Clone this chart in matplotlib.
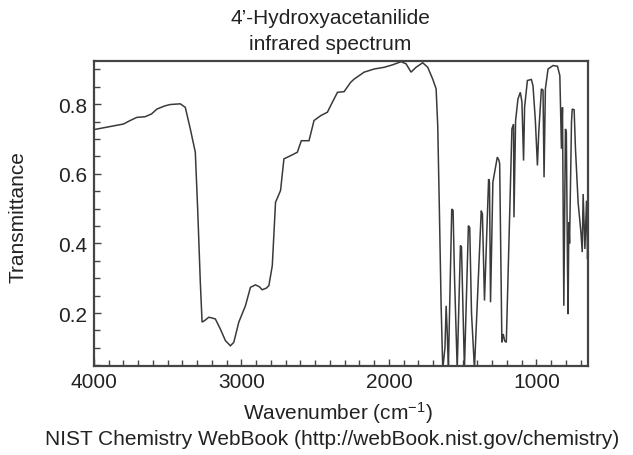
import matplotlib
matplotlib.use("Agg")
import matplotlib.pyplot as plt
from matplotlib.ticker import MultipleLocator, FixedLocator

plt.rcParams['font.family'] = ['Liberation Sans', 'DejaVu Sans']
plt.rcParams['mathtext.fontset'] = 'custom'
plt.rcParams['mathtext.rm'] = 'Liberation Sans'
plt.rcParams['mathtext.it'] = 'Liberation Sans'

title_lines = ["4\u2019-Hydroxyacetanilide", "infrared spectrum"]
x_label = r"Wavenumber (cm$^{-1}$)"
y_label = "Transmittance"
source_text = "NIST Chemistry WebBook (http://webBook.nist.gov/chemistry)"
x_ticks = [4000, 3000, 2000, 1000]
y_ticks = [0.2, 0.4, 0.6, 0.8]

wavenumber = [
    4000, 3900, 3800, 3755, 3710, 3653, 3610, 3573, 3520, 3483, 3415, 3381,
    3347, 3313, 3297, 3279, 3267, 3245, 3222, 3200, 3177, 3143, 3109, 3075,
    3052, 3018, 2973, 2939, 2905, 2880, 2859, 2830, 2814, 2791, 2769, 2735,
    2712, 2667, 2621, 2594, 2542, 2508, 2463, 2417, 2395, 2349, 2304, 2259,
    2236, 2168, 2100, 2032, 1975, 1918, 1884, 1850, 1816, 1771, 1737, 1703,
    1680, 1669, 1658, 1646, 1635, 1620, 1612, 1605, 1597, 1574, 1565, 1555,
    1537, 1515, 1508, 1488, 1461, 1452, 1440, 1420, 1374, 1366, 1352, 1324,
    1318, 1311, 1295, 1265, 1255, 1249, 1234, 1225, 1215, 1204, 1181, 1166,
    1155, 1152, 1141, 1125, 1109, 1098, 1087, 1080, 1061, 1034, 1023, 1007,
    993, 984, 966, 955, 948, 939, 921, 887, 857, 841, 830, 823,
    819, 814, 803, 797, 789, 785, 780, 775, 762, 757, 744, 735,
    717, 698, 689, 683, 671, 660, 653, 650,
]
transmittance = [
    0.727, 0.735, 0.743, 0.753, 0.762, 0.764, 0.772, 0.786, 0.795, 0.799, 0.801, 0.791,
    0.729, 0.662, 0.499, 0.288, 0.174, 0.180, 0.188, 0.186, 0.183, 0.154, 0.121, 0.106,
    0.116, 0.174, 0.221, 0.274, 0.281, 0.276, 0.267, 0.272, 0.279, 0.336, 0.518, 0.552,
    0.643, 0.652, 0.662, 0.695, 0.695, 0.753, 0.767, 0.777, 0.796, 0.834, 0.836, 0.863,
    0.872, 0.892, 0.901, 0.906, 0.913, 0.922, 0.916, 0.892, 0.906, 0.919, 0.906, 0.872,
    0.844, 0.738, 0.499, 0.221, 0.040, 0.100, 0.221, 0.150, 0.040, 0.499, 0.495, 0.300,
    0.040, 0.394, 0.390, 0.040, 0.451, 0.445, 0.200, 0.040, 0.494, 0.485, 0.236, 0.585,
    0.575, 0.231, 0.576, 0.648, 0.640, 0.629, 0.116, 0.140, 0.120, 0.116, 0.480, 0.729,
    0.743, 0.475, 0.753, 0.815, 0.834, 0.806, 0.638, 0.791, 0.868, 0.871, 0.853, 0.753,
    0.624, 0.719, 0.844, 0.840, 0.590, 0.844, 0.901, 0.911, 0.909, 0.882, 0.672, 0.791,
    0.547, 0.221, 0.729, 0.720, 0.336, 0.197, 0.461, 0.400, 0.748, 0.786, 0.784, 0.672,
    0.518, 0.432, 0.375, 0.542, 0.384, 0.523, 0.355, 0.400,
]

W, H = 633, 456
fig = plt.figure(figsize=(W / 100, H / 100), dpi=100)
ax = fig.add_axes([94 / W, 1 - 367 / H, (588 - 94) / W, (367 - 62) / H])

line_color = "#3a3a3a"
text_color = "#222222"
ax.plot(wavenumber, transmittance, color=line_color, lw=1.1, solid_joinstyle="miter")

ax.set_xlim(4000, 650)
ax.set_ylim(0.048, 0.924)

ax.xaxis.set_major_locator(FixedLocator(x_ticks))
ax.xaxis.set_minor_locator(MultipleLocator(100))
ax.yaxis.set_major_locator(FixedLocator(y_ticks))
ax.yaxis.set_minor_locator(MultipleLocator(0.05))

fs_tick = 15
fs_label = 15
ax.tick_params(axis="both", which="major", direction="in", length=5, width=1.0,
               color="#444444", labelsize=fs_tick, labelcolor=text_color)
ax.tick_params(axis="x", which="major", pad=4)
ax.tick_params(axis="y", which="major", pad=5)
ax.tick_params(axis="both", which="minor", direction="in", length=4, width=1.0,
               color="#444444")
ax.tick_params(top=False, right=False, which="both")

for sp in ax.spines.values():
    sp.set_color("#444444")
    sp.set_linewidth(1.6)

fig.text(18 / W, 1 - 217 / H, y_label, fontsize=fs_label, color=text_color,
         rotation=90, ha="center", va="center")
fig.text(338 / W, 1 - 413 / H, x_label, fontsize=fs_label, color=text_color,
         ha="center", va="center")
fig.text(332 / W, 1 - 440 / H, source_text, fontsize=fs_label, color=text_color,
         ha="center", va="center")
fig.text(330 / W, 1 - 18 / H, title_lines[0], fontsize=fs_label, color=text_color,
         ha="center", va="center")
fig.text(330 / W, 1 - 44 / H, title_lines[1], fontsize=fs_label, color=text_color,
         ha="center", va="center")

fig.savefig("out.png", dpi=100)
